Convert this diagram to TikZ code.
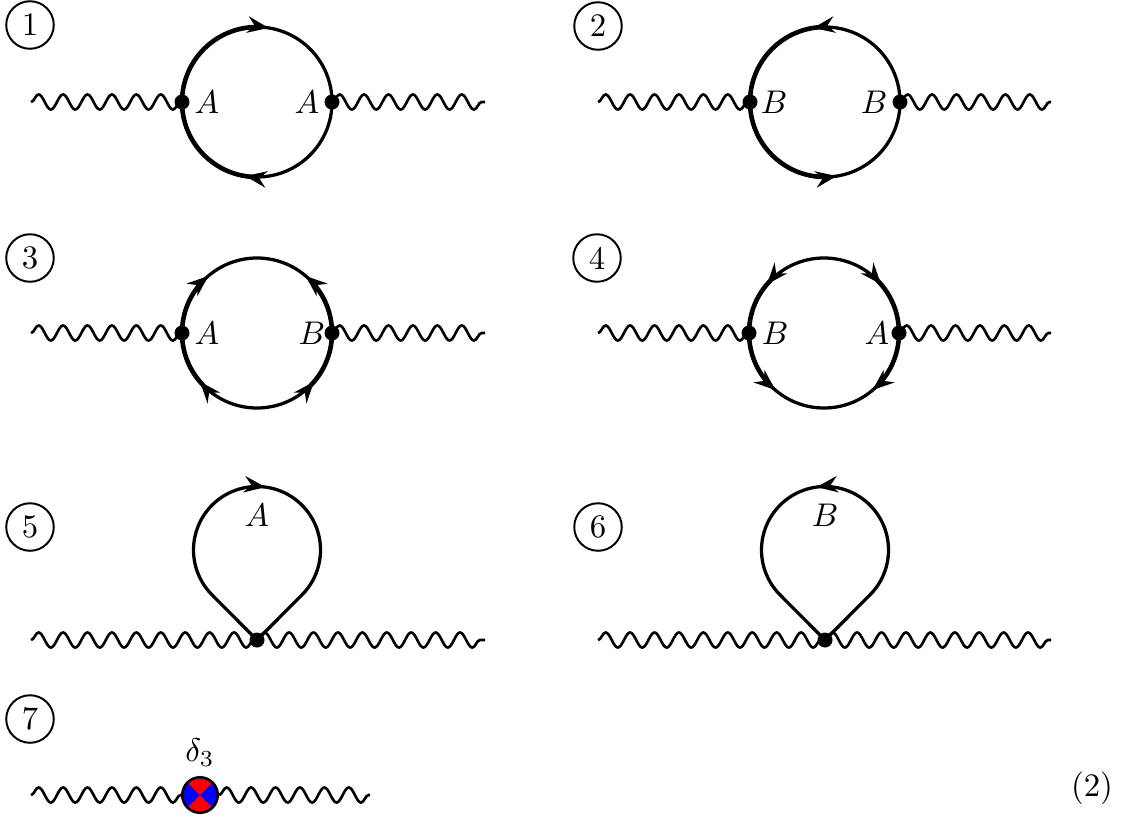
\documentclass[tikz,border=0pt]{standalone}
\usepackage{xcolor}
\usepackage{amsmath}
\usepackage{amssymb}
\usepackage{tikz}
\usetikzlibrary{calc}
\usetikzlibrary{arrows.meta}
\usetikzlibrary{decorations.pathmorphing}
\usetikzlibrary{decorations.markings}

\begin{document}
\begin{tikzpicture}[x=0.305pt,y=0.305pt,
    photon/.style={line width=0.8pt, decorate,
        decoration={snake, amplitude=2.3pt, segment length=7.45pt}},
    fermion/.style={line width=1pt, postaction={decorate},
        decoration={markings, mark=at position #1 with
        {\arrow{Stealth[length=6.5pt,width=5pt,inset=2.2pt]}}}},
    fermion/.default=0.55,
    heavy/.style={line width=1.4pt},
    tag/.style={circle, draw, line width=0.6pt, minimum size=14.5pt, inner sep=0pt},
    ctvertex/.style={circle, draw, line width=0.8pt, fill=blue, minimum size=10.8pt, inner sep=0pt,
        path picture={
        \fill[red] (path picture bounding box.center) -- (path picture bounding box.north east)
            -- (path picture bounding box.north west) -- cycle;
        \fill[red] (path picture bounding box.center) -- (path picture bounding box.south east)
            -- (path picture bounding box.south west) -- cycle;}}]
                \useasboundingbox (0,0) rectangle (1127,-817);

                % Drawing diagram 1
                \node [tag] (n1) at (30,-25) {1};
                \coordinate (c1) at (257,-102);
                \coordinate (v1l) at (182,-102);
                \coordinate (v1r) at (332,-102);
                \coordinate (w1l) at (31,-102);
                \coordinate (w1r) at (485,-102);
                \draw [photon] (w1l) -- (v1l);
                \draw [photon] (v1r) -- (w1r);
                \draw [heavy] (c1) ++(90:75) arc (90:270:75);
                \draw [fermion] (v1l) arc (180:0:75);
                \draw [fermion] (v1r) arc (0:-180:75);
                \fill (v1l) circle (7.5);
                \fill (v1r) circle (7.5);
                \node (a1l) at ($(v1l)+(25,0)$) {$A$};
                \node (a1r) at ($(v1r)+(-25,0)$) {$A$};

                % Drawing diagram 2
                \node [tag] (n2) at (598,-26) {2};
                \coordinate (c2) at (825,-102);
                \coordinate (v2l) at (750,-102);
                \coordinate (v2r) at (900,-102);
                \coordinate (w2l) at (598,-102);
                \coordinate (w2r) at (1051,-102);
                \draw [photon] (w2l) -- (v2l);
                \draw [photon] (v2r) -- (w2r);
                \draw [heavy] (c2) ++(90:75) arc (90:270:75);
                \draw [fermion] (v2r) arc (0:180:75);
                \draw [fermion] (v2l) arc (180:360:75);
                \fill (v2l) circle (7.5);
                \fill (v2r) circle (7.5);
                \node (b2l) at ($(v2l)+(24,0)$) {$B$};
                \node (b2r) at ($(v2r)+(-26,0)$) {$B$};

                % Drawing diagram 3
                \node [tag] (n3) at (30,-258) {3};
                \coordinate (c3) at (257,-333);
                \coordinate (v3l) at (182,-333);
                \coordinate (v3r) at (332,-333);
                \coordinate (w3l) at (31,-333);
                \coordinate (w3r) at (485,-333);
                \draw [photon] (w3l) -- (v3l);
                \draw [photon] (v3r) -- (w3r);
                \draw [heavy] (c3) ++(135:75) arc (135:225:75);
                \draw [heavy] (c3) ++(-45:75) arc (-45:45:75);
                \draw [fermion] (v3l) arc (180:90:75);
                \draw [fermion] (c3) ++(270:75) arc (270:180:75);
                \draw [fermion] (v3r) arc (0:90:75);
                \draw [fermion] (c3) ++(270:75) arc (270:360:75);
                \fill (v3l) circle (7.5);
                \fill (v3r) circle (7.5);
                \node (a3) at ($(v3l)+(25,0)$) {$A$};
                \node (b3) at ($(v3r)+(-20,0)$) {$B$};

                % Drawing diagram 4
                \node [tag] (n4) at (597,-258) {4};
                \coordinate (c4) at (824,-333);
                \coordinate (v4l) at (749,-333);
                \coordinate (v4r) at (899,-333);
                \coordinate (w4l) at (598,-333);
                \coordinate (w4r) at (1051,-333);
                \draw [photon] (w4l) -- (v4l);
                \draw [photon] (v4r) -- (w4r);
                \draw [heavy] (c4) ++(135:75) arc (135:225:75);
                \draw [heavy] (c4) ++(-45:75) arc (-45:45:75);
                \draw [fermion] (c4) ++(90:75) arc (90:180:75);
                \draw [fermion] (c4) ++(90:75) arc (90:0:75);
                \draw [fermion] (v4l) arc (180:270:75);
                \draw [fermion] (v4r) arc (360:270:75);
                \fill (v4l) circle (7.5);
                \fill (v4r) circle (7.5);
                \node (b4) at ($(v4l)+(26,0)$) {$B$};
                \node (a4) at ($(v4r)+(-22,0)$) {$A$};

                % Drawing diagram 5
                \node [tag] (n5) at (30,-527) {5};
                \coordinate (c5) at (257,-550);
                \coordinate (v5) at (257,-640);
                \coordinate (w5l) at (31,-640);
                \coordinate (w5r) at (485,-640);
                \draw [photon] (w5l) -- (v5);
                \draw [photon] (v5) -- (w5r);
                \draw [fermion=0.52] (v5) -- ($(c5)+(225:63.5)$) arc (225:-45:63.5) -- (v5);
                \fill (v5) circle (7.5);
                \node (a5) at (257,-515) {$A$};

                % Drawing diagram 6
                \node [tag] (n6) at (598,-527) {6};
                \coordinate (c6) at (825,-550);
                \coordinate (v6) at (825,-640);
                \coordinate (w6l) at (598,-640);
                \coordinate (w6r) at (1051,-640);
                \draw [photon] (w6l) -- (v6);
                \draw [photon] (v6) -- (w6r);
                \draw [fermion=0.52] (v6) -- ($(c6)+(-45:63.5)$) arc (-45:225:63.5) -- (v6);
                \fill (v6) circle (7.5);
                \node (b6) at (825,-515) {$B$};

                % Drawing diagram 7
                \node [tag] (n7) at (30,-719) {7};
                \node [ctvertex] (x7) at (200,-795) {};
                \coordinate (w7l) at (31,-795);
                \coordinate (w7r) at (370,-795);
                \draw [photon] (w7l) -- (x7);
                \draw [photon] (x7) -- (w7r);
                \node (d7) at (200,-753) {$\delta_3$};

                % Equation number
                \node (eq) at (1092,-788) {(2)};
            \end{tikzpicture}
\end{document}
